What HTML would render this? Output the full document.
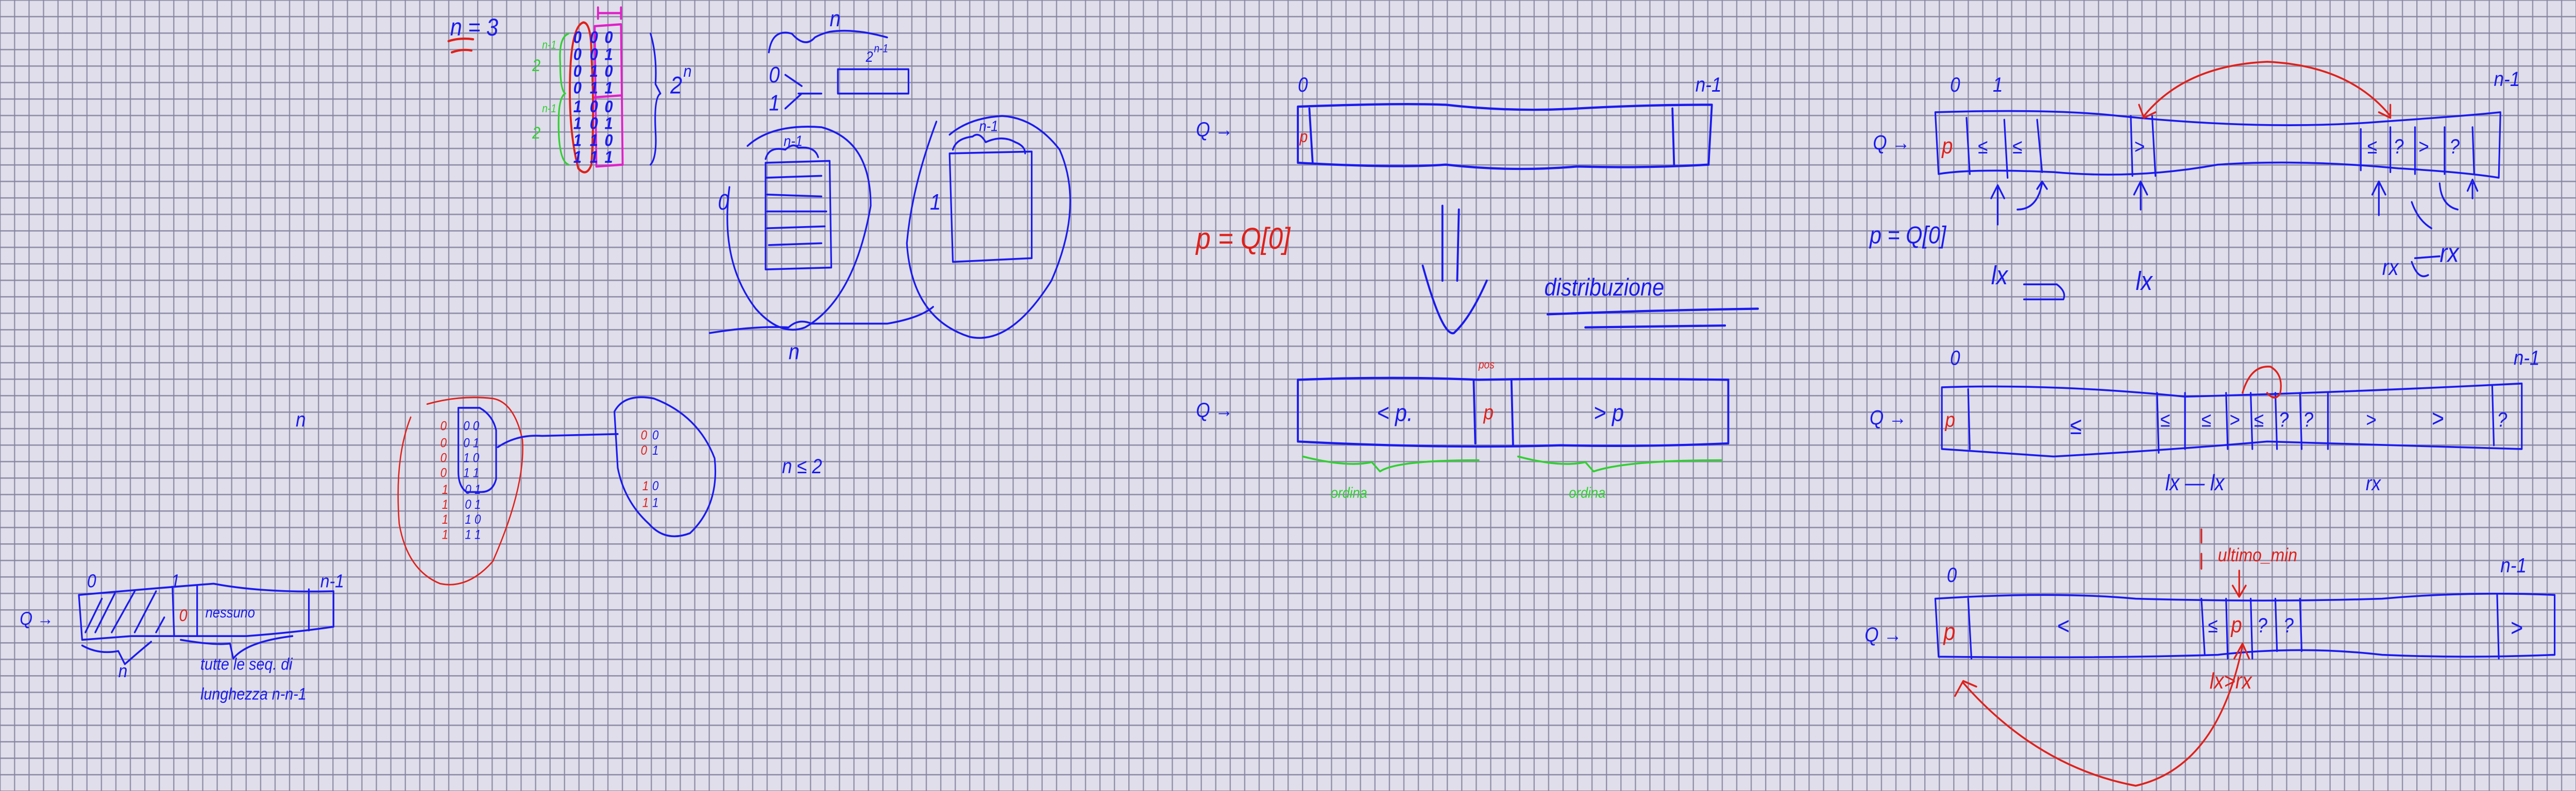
<!DOCTYPE html>
<html><head><meta charset="utf-8">
<style>
html,body{margin:0;padding:0;width:100%;height:100%;overflow:hidden;background:#dfdeea;}
svg{position:absolute;left:0;top:0;width:100vw;height:100vh;display:block;}
text{font-family:"Liberation Sans",sans-serif;font-style:italic;}
</style></head><body>
<svg viewBox="0 0 1568 422.8" preserveAspectRatio="none" xmlns="http://www.w3.org/2000/svg">
<defs>
<pattern id="g" patternUnits="userSpaceOnUse" x="-0.3" y="-0.3" width="8.8089" height="8.8089">
<rect x="0" y="0" width="8.8089" height="0.75" fill="#85829f" fill-opacity="0.85"/>
<rect x="0" y="0" width="0.75" height="8.8089" fill="#85829f" fill-opacity="0.85"/>
</pattern>
</defs>
<rect x="0" y="0" width="1568" height="422.8" fill="#dfdeea"/>
<rect x="0" y="0" width="1568" height="422.8" fill="url(#g)"/>
<g fill="none" stroke-linecap="round" stroke-linejoin="round">
<!-- ===== Section 1 ===== -->
<g stroke="#e0201a" stroke-width="1.2">
 <path d="M273,22 Q280,20 288,21 M275,28 Q281,26 287,27"/>
 <path d="M355,12 Q348,14 347,40 Q346,70 352,90 Q357,95 360,88 Q362,60 360,30 Q360,12 355,12 Z"/>
</g>
<g stroke="#e020c8" stroke-width="1.2">
 <path d="M362,14 L378,13 L379,88 L363,89 Z M362,52 L378,51"/>
 <path d="M364,4 L364,10 M364,7 L378,7 M378,4 L378,10"/>
</g>
<g stroke="#30d030" stroke-width="1">
 <path d="M346,18 Q340,20 341,34 Q341,48 344,50 Q340,52 340,66 Q340,86 346,88"/>
</g>
<g fill="#30d030" font-size="9"><text x="324" y="38">2</text><text x="324" y="74">2</text><text x="330" y="26" font-size="6">n-1</text><text x="330" y="60" font-size="6">n-1</text></g>
<g fill="#1a1af0" font-size="9" font-weight="bold">
 <text x="349" y="23">0</text><text x="359" y="23">0</text><text x="368" y="23">0</text>
 <text x="349" y="32">0</text><text x="359" y="32">0</text><text x="368" y="32">1</text>
 <text x="349" y="41">0</text><text x="359" y="41">1</text><text x="368" y="41">0</text>
 <text x="349" y="50">0</text><text x="359" y="50">1</text><text x="368" y="50">1</text>
 <text x="349" y="60">1</text><text x="359" y="60">0</text><text x="368" y="60">0</text>
 <text x="349" y="69">1</text><text x="359" y="69">0</text><text x="368" y="69">1</text>
 <text x="349" y="78">1</text><text x="359" y="78">1</text><text x="368" y="78">0</text>
 <text x="349" y="87">1</text><text x="359" y="87">1</text><text x="368" y="87">1</text>
</g>
<g fill="#1a1af0" font-size="13"><text x="274" y="19">n = 3</text><text x="408" y="50">2</text><text x="416" y="41" font-size="9">n</text></g>
<g stroke="#1a1af0" stroke-width="1">
 <path d="M396,18 Q400,30 399,45 L402,50 Q398,52 399,70 Q400,84 396,88"/>
 <path d="M468,28 Q470,15 482,18 Q490,26 496,20 Q500,18 505,17 Q520,15 540,20"/>
 <path d="M510,37 L553,37 L553,50 L510,50 Z"/>
 <path d="M478,40 L488,46 M486,50 L500,50 M478,58 L488,50"/>
 <path d="M444,100 Q438,140 460,165 Q475,180 490,175 Q520,160 530,110 Q530,75 500,68 Q470,66 455,78"/>
 <path d="M466,87 L505,86 L506,143 L466,144 Z M466,95 L500,94 M467,104 L500,105 M467,113 L503,113 M467,122 L502,121 M468,131 L500,130"/>
 <path d="M466,85 Q468,78 478,80 Q483,76 486,79 Q496,78 498,84"/>
 <path d="M570,65 Q555,100 552,130 Q555,170 590,180 Q615,185 640,150 Q660,110 645,80 Q630,63 610,62 Q590,63 578,72"/>
 <path d="M578,82 L628,81 L628,138 L580,140 Z"/>
 <path d="M580,80 Q582,74 592,73 Q596,70 600,76 Q610,72 618,76 Q624,78 624,82"/>
 <path d="M432,178 Q460,174 480,175 Q486,170 494,173 L540,173 Q560,170 568,164"/>
</g>
<g fill="#1a1af0" font-size="12">
 <text x="505" y="14">n</text><text x="468" y="44">0</text><text x="468" y="59">1</text>
 <text x="527" y="33" font-size="8">2</text><text x="532" y="28" font-size="6">n-1</text>
 <text x="437" y="112">0</text><text x="566" y="112">1</text>
 <text x="477" y="78" font-size="8">n-1</text><text x="596" y="70" font-size="8">n-1</text>
 <text x="480" y="192">n</text>
</g>
<!-- ===== Section 2 ===== -->
<g fill="#1a1af0" font-size="11"><text x="180" y="228">n</text><text x="476" y="253">n ≤ 2</text></g>
<path d="M250,223 Q240,245 243,280 Q248,305 268,312 Q285,315 300,300 Q320,260 318,235 Q313,215 300,213 Q280,211 260,216" stroke="#e0201a" stroke-width="0.8"/>
<g stroke="#1a1af0" stroke-width="1">
 <path d="M279,218 L292,218 Q300,222 302,230 L302,256 Q300,263 293,263 L284,263 Q279,260 279,252 Z"/>
 <path d="M303,239 Q315,232 330,233 L376,232"/>
 <path d="M374,220 Q380,210 398,213 Q425,222 435,245 Q438,270 420,285 Q405,290 395,280 Q380,268 376,250 Z"/>
</g>
<g fill="#e0201a" font-size="7"><text x="268" y="230">0</text><text x="268" y="239">0</text><text x="268" y="247">0</text><text x="268" y="255">0</text><text x="269" y="264">1</text><text x="269" y="272">1</text><text x="269" y="280">1</text><text x="269" y="288">1</text>
<text x="390" y="235">0</text><text x="390" y="243">0</text><text x="391" y="262">1</text><text x="391" y="271">1</text></g>
<g fill="#1a1af0" font-size="7"><text x="282" y="230">0 0</text><text x="282" y="239">0 1</text><text x="282" y="247">1 0</text><text x="282" y="255">1 1</text><text x="283" y="264">0 1</text><text x="283" y="272">0 1</text><text x="283" y="280">1 0</text><text x="283" y="288">1 1</text>
<text x="397" y="235">0</text><text x="397" y="243">1</text><text x="397" y="262">0</text><text x="397" y="271">1</text></g>
<g stroke="#1a1af0" stroke-width="1">
 <path d="M48,318 Q100,314 130,312 Q160,317 203,316 L203,335 Q180,338 150,340 Q110,340 80,340 L50,342 Z"/>
 <path d="M105,314 L106,340 M120,313 L120,340 M188,315 L188,337"/>
 <path d="M52,338 L62,320 M58,338 L70,317 M68,338 L82,316 M82,338 L95,316 M95,338 L100,330"/>
 <path d="M50,345 Q60,350 72,348 L76,355 Q85,348 92,343 M110,342 Q130,345 140,344 L142,352 Q150,343 178,340"/>
</g>
<g fill="#1a1af0" font-size="10"><text x="12" y="334">Q →</text><text x="53" y="314">0</text><text x="104" y="314">1</text><text x="195" y="314">n-1</text>
<text x="125" y="330" font-size="8">nessuno</text><text x="72" y="362">n</text>
<text x="122" y="358" font-size="9">tutte le seq. di</text><text x="122" y="374" font-size="9">lunghezza  n-n-1</text></g>
<text x="109" y="332" fill="#e0201a" font-size="9">0</text>
<!-- ===== Section 3 ===== -->
<g stroke="#1a1af0" stroke-width="1.2">
 <path d="M790,57 Q850,55 880,56 Q920,60 960,58 Q1000,56 1042,56 L1040,88 Q1000,90 960,89 Q920,92 880,88 Q850,90 790,87 Z"/>
 <path d="M797,58 L799,87 M1018,58 L1019,88"/>
 <path d="M878,110 L878,150 M888,112 L887,150 M866,142 Q878,180 885,178 Q895,170 905,150"/>
 <path d="M942,168 Q1000,166 1070,165 M965,175 L1050,174"/>
 <path d="M790,203 Q850,201 900,203 Q960,202 1052,203 L1052,237 Q1000,239 950,238 Q880,240 790,236 Z"/>
 <path d="M897,203 L898,237 M920,203 L921,238"/>
</g>
<g fill="#1a1af0" font-size="11"><text x="728" y="73">Q →</text><text x="790" y="49">0</text><text x="1032" y="49">n-1</text>
<text x="940" y="158" font-size="13">distribuzione</text>
<text x="728" y="223">Q →</text><text x="838" y="225" font-size="13">&lt; p.</text><text x="970" y="225" font-size="13">&gt; p</text></g>
<g fill="#e0201a"><text x="791" y="76" font-size="9">p</text><text x="728" y="133" font-size="16">p = Q[0]</text><text x="903" y="224" font-size="11">p</text><text x="900" y="197" font-size="6">pos</text></g>
<g stroke="#30d030" stroke-width="1"><path d="M793,244 Q820,250 835,247 L840,252 Q850,246 900,246 M924,244 Q950,250 965,247 L970,252 Q990,246 1048,246"/></g>
<g fill="#30d030" font-size="8"><text x="810" y="266">ordina</text><text x="955" y="266">ordina</text></g>
<!-- ===== Section 4 ===== -->
<g stroke="#1a1af0" stroke-width="1">
 <path d="M1178,60 Q1250,58 1290,62 Q1380,70 1450,65 Q1500,62 1522,60 L1521,95 Q1500,92 1460,90 Q1400,85 1350,88 Q1300,96 1250,92 Q1200,90 1180,93 Z"/>
 <path d="M1197,63 L1199,93 M1220,64 L1222,95 M1240,64 L1243,92 M1297,62 L1298,94 M1310,62 L1312,94 M1437,69 L1437,91 M1455,68 L1455,92 M1470,68 L1470,93 M1488,68 L1488,93 M1505,68 L1506,93"/>
 <path d="M1216,120 L1216,100 M1212,106 L1216,99 L1220,106 M1228,112 Q1240,112 1243,98 M1240,101 L1243,97 L1246,101 M1303,112 L1303,98 M1299,104 L1303,97 L1307,104 M1448,115 L1448,98 M1444,104 L1448,97 L1452,104 M1468,108 Q1472,118 1480,122 M1485,98 Q1486,110 1496,112 M1505,106 L1505,98 M1502,102 L1505,96 L1508,102"/>
 <path d="M1232,152 L1252,152 Q1258,156 1256,160 L1232,160"/>
 <path d="M1470,138 L1485,137 M1468,140 Q1472,150 1478,147"/>
 <path d="M1182,207 Q1250,205 1330,212 Q1420,210 1535,205 L1535,240 Q1450,238 1380,236 Q1330,240 1250,244 L1182,240 Z"/>
 <path d="M1198,208 L1199,240 M1313,210 L1314,242 M1330,210 L1330,240 M1355,210 L1356,240 M1370,210 L1371,240 M1385,210 L1386,240 M1400,210 L1401,240 M1417,210 L1417,240 M1517,206 L1518,238"/>
 <path d="M1178,320 Q1250,316 1300,320 Q1380,322 1450,320 Q1500,316 1555,318 L1555,350 Q1500,352 1450,350 Q1400,345 1350,350 Q1280,352 1180,351 Z"/>
 <path d="M1198,320 L1200,352 M1340,320 L1342,350 M1355,320 L1356,352 M1370,320 L1371,352 M1385,320 L1386,348 M1400,320 L1401,348 M1520,318 L1521,352"/>
</g>
<g fill="#1a1af0" font-size="11">
 <text x="1187" y="49">0</text><text x="1213" y="49">1</text><text x="1518" y="46">n-1</text><text x="1140" y="80">Q →</text>
 <text x="1204" y="82">≤</text><text x="1225" y="82">≤</text><text x="1299" y="82">&gt;</text>
 <text x="1441" y="82">≤</text><text x="1457" y="82">?</text><text x="1472" y="82">&gt;</text><text x="1491" y="82">?</text>
 <text x="1138" y="130" font-size="13">p = Q[0]</text>
 <text x="1212" y="152" font-size="14">lx</text><text x="1300" y="155" font-size="14">lx</text>
 <text x="1450" y="147" font-size="12">rx</text><text x="1485" y="140" font-size="14">rx</text>
 <text x="1187" y="195">0</text><text x="1530" y="195">n-1</text><text x="1138" y="227">Q →</text>
 <text x="1260" y="232" font-size="13">≤</text><text x="1315" y="228">≤</text><text x="1340" y="228">≤</text><text x="1357" y="228">&gt;</text>
 <text x="1372" y="228">≤</text><text x="1387" y="228">?</text><text x="1402" y="228">?</text><text x="1440" y="228">&gt;</text><text x="1480" y="228" font-size="13">&gt;</text><text x="1520" y="228">?</text>
 <text x="1318" y="262" font-size="12">lx — lx</text><text x="1440" y="262">rx</text>
 <text x="1185" y="311">0</text><text x="1522" y="306">n-1</text><text x="1135" y="343">Q →</text>
 <text x="1252" y="339" font-size="13">&lt;</text><text x="1344" y="338">≤</text><text x="1374" y="338">?</text><text x="1390" y="338">?</text><text x="1528" y="340" font-size="13">&gt;</text>
</g>
<g fill="#e0201a"><text x="1182" y="82" font-size="12">p</text><text x="1184" y="228" font-size="11">p</text><text x="1183" y="342" font-size="13">p</text><text x="1358" y="338" font-size="12">p</text>
 <text x="1350" y="300" font-size="10">ultimo_min</text><text x="1345" y="368" font-size="12">lx&gt;rx</text></g>
<g stroke="#e0201a" stroke-width="1">
 <path d="M1305,62 Q1330,35 1380,33 Q1430,35 1455,62 M1302,56 L1305,63 L1312,60 M1448,60 L1455,63 L1455,56"/>
 <path d="M1365,210 Q1370,195 1382,196 Q1390,200 1388,210 Q1385,215 1380,210"/>
 <path d="M1340,283 L1340,290 M1340,296 L1340,304 M1363,305 L1363,318 M1359,313 L1363,319 L1367,313"/>
 <path d="M1195,365 Q1240,410 1300,420 Q1350,410 1365,345 M1190,372 L1195,364 L1203,367 M1360,352 L1365,344 L1369,352"/>
</g>
</g>
</svg>
</body></html>
